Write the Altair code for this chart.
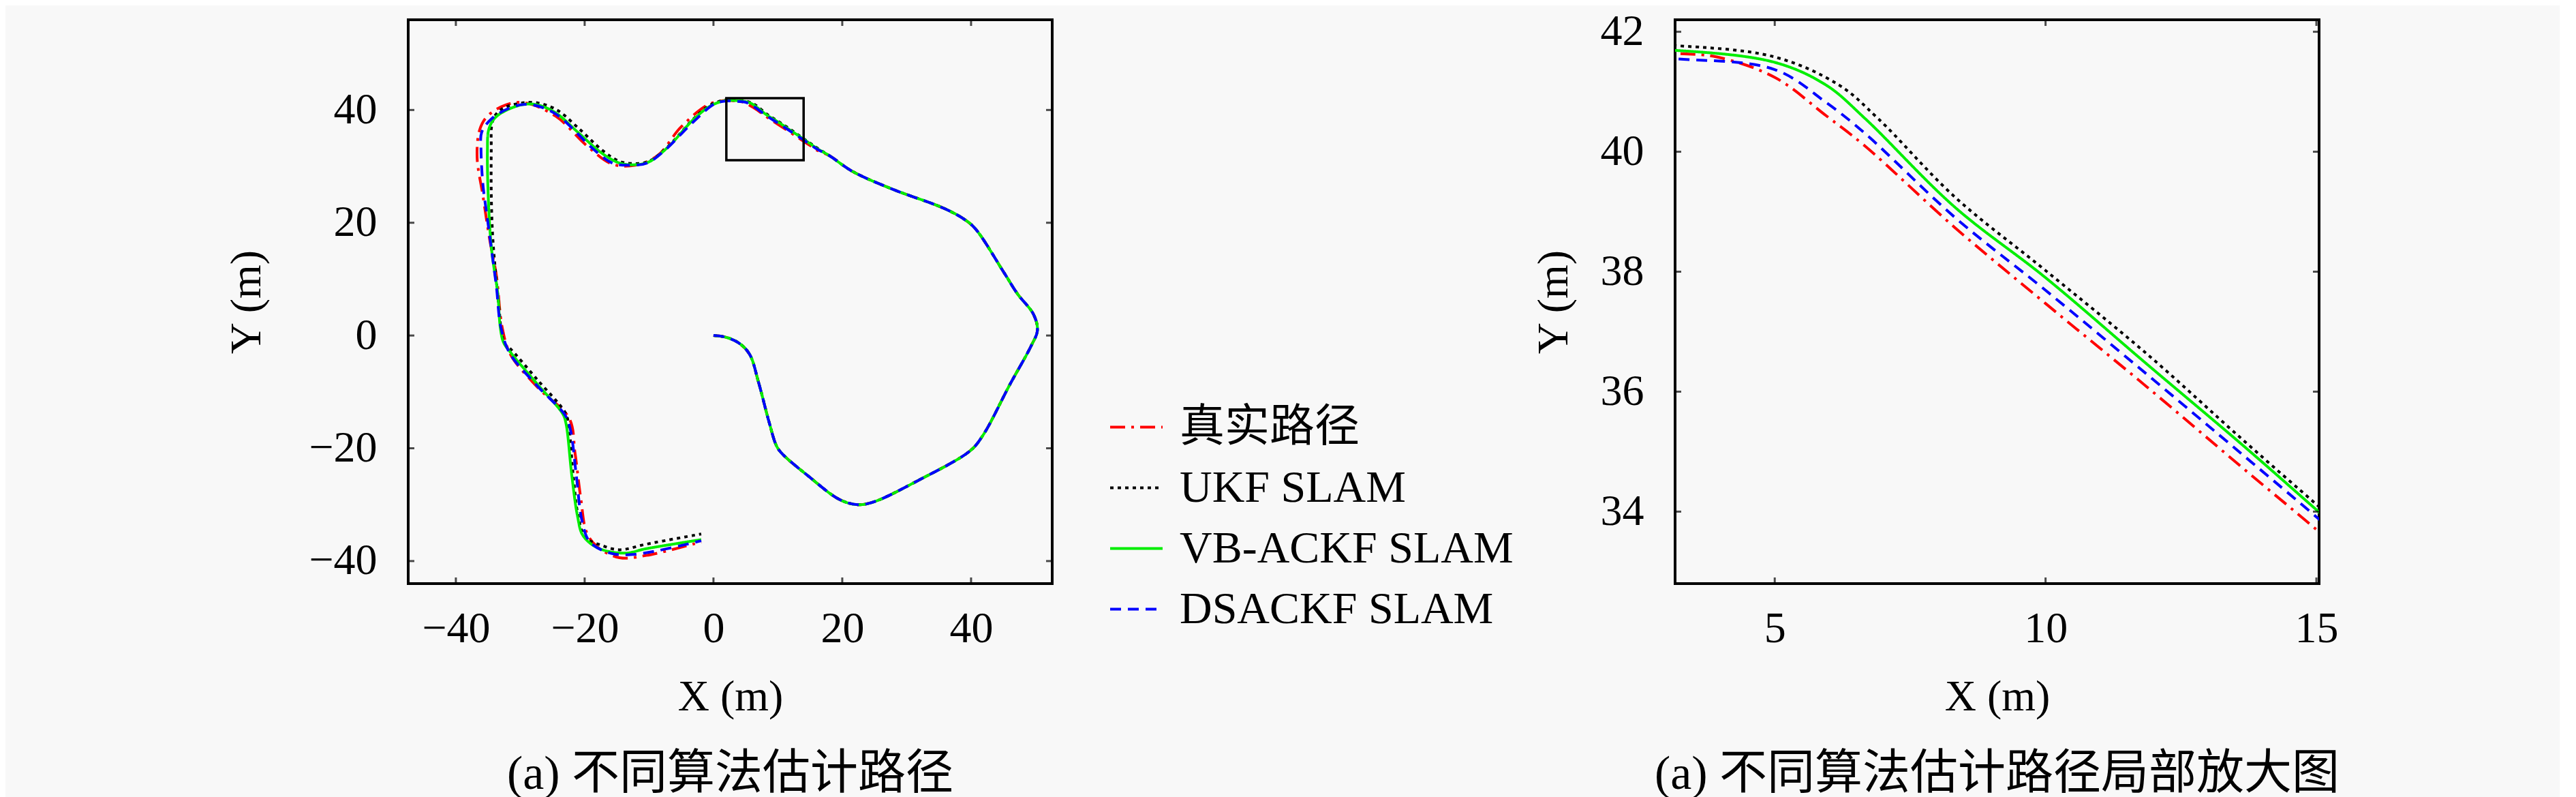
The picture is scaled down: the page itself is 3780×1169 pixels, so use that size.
import altair as alt
import pandas as pd

FONT = "Liberation Serif, Noto Sans CJK SC"

SERIES = ['真实路径', 'UKF SLAM', 'VB-ACKF SLAM', 'DSACKF SLAM']
COLORS = ['#ff0000', '#000000', '#00ee00', '#0000ff']
DASHES = [[22, 9, 4, 9], [5, 6], [1, 0], [16, 10]]

# shared first part of the path (all estimates overlap here)
COMMON_X = [0, 1.9, 3.9, 5.6, 7.0, 8.6, 9.8, 10.7, 14.7, 19.6, 22.4, 24.9, 31.8, 39.9, 41.9, 46.0,
            49.3, 50.3, 49.7, 47.2, 45.2, 40.7, 39.1, 35.9, 27.7, 21.6, 18.0]
COMMON_Y = [0, -0.3, -1.3, -3.3, -8.3, -15.2, -19.6, -21.0, -24.9, -29.1, -30.0, -29.5, -25.7, -20.4, -17.6, -8.75,
            -1.9, 0.9, 3.75, 7.4, 11.0, 18.9, 20.5, 22.5, 26.0, 29.1, 31.9]

TRUE_X = [16.0, 15.04, 13.65, 11.87, 10.0, 8.32, 6.66, 5.95, 5.0, 3.93, 3.16, 1.96, -0.9, -5.1, -8.6, -12.1,
          -15.7, -19.6, -24.5, -29.4, -32.25, -35.1, -36.3, -36.7, -35.8, -34.7, -33.7, -32.8, -31.5, -27.3,
          -22.4, -21.5, -20.6, -19.7, -18.1, -14.6, -10.4, -1.9]
TRUE_Y = [32.91, 33.67, 34.72, 36.08, 37.47, 38.74, 40.1, 40.6, 41.24, 41.58, 41.64, 41.7, 40.9, 36.9, 32.0, 30.2,
          30.4, 33.6, 38.9, 41.3, 40.9, 38.9, 36.5, 31.6, 24.8, 16.7, 10.6, 1.4, -3.4, -9.2,
          -14.7, -20.8, -28.9, -34.9, -37.4, -39.4, -39.0, -36.6]

UKF_X = [16.0, 15.04, 13.65, 11.87, 10.0, 8.32, 6.9, 6.19, 5.0, 3.16, 1.9, -0.6, -3.3, -6.9, -10.0, -12.1,
         -14.6, -17.2, -20.8, -24.3, -27.5, -30.0, -32.5, -33.8, -34.4, -34.5, -34.5, -34.3, -33.9, -33.3,
         -32.9, -32.4, -31.5, -27.3, -23.1, -22.6, -21.8, -21.0, -19.9, -17.4, -14.6, -10.4, -1.9]
UKF_Y = [33.33, 34.09, 35.19, 36.63, 38.02, 39.25, 40.56, 41.11, 41.58, 41.77, 41.8, 40.8, 38.2, 33.7, 30.9, 30.5,
         30.9, 32.8, 36.6, 40.0, 41.3, 41.2, 40.4, 39.2, 37.5, 33.0, 25.0, 18.0, 12.0, 5.0,
         0.5, -1.5, -2.4, -7.9, -13.5, -15.0, -24.5, -32.0, -35.8, -37.2, -38.0, -37.0, -35.2]

VB_X = [16.0, 15.04, 13.65, 11.87, 10.0, 8.32, 6.66, 5.95, 5.0, 3.16, 1.96, -0.5, -3.3, -6.9, -10.0, -12.1,
        -14.6, -17.4, -21.0, -24.5, -27.3, -29.4, -32.25, -34.0, -34.9, -35.1, -34.9, -34.4, -33.5, -33.1,
        -32.6, -31.5, -27.3, -23.4, -22.9, -22.0, -21.1, -20.3, -18.1, -13.9, -10.4, -1.9]
VB_Y = [33.24, 34.0, 35.1, 36.46, 37.9, 39.08, 40.56, 41.11, 41.49, 41.69, 41.7, 40.7, 38.1, 33.6, 30.8, 30.3,
        30.6, 32.4, 36.0, 39.5, 40.9, 41.0, 39.9, 38.5, 36.5, 32.8, 22.7, 14.7, 7.5, 1.4,
        -1.2, -3.0, -8.7, -13.9, -15.6, -24.8, -32.1, -35.4, -37.6, -38.6, -37.8, -36.2]

DS_X = [16.0, 15.04, 13.65, 11.87, 10.0, 8.32, 6.66, 5.95, 5.0, 3.16, 1.96, 0.2, -3.3, -7.6, -10.3, -13.2,
        -15.7, -18.8, -21.7, -24.5, -28.0, -30.8, -34.4, -36.0, -36.1, -35.8, -35.1, -34.4, -33.7, -33.0,
        -31.6, -27.3, -23.0, -22.2, -21.3, -20.4, -19.2, -16.0, -12.1, -1.9]
DS_Y = [33.12, 33.88, 34.94, 36.29, 37.69, 38.91, 40.31, 40.82, 41.37, 41.55, 41.6, 41.1, 37.7, 32.8, 30.6, 30.2,
        30.6, 33.2, 36.5, 39.3, 40.9, 40.7, 38.5, 36.0, 33.2, 26.8, 20.7, 14.7, 8.6, 1.4,
        -3.2, -9.0, -14.2, -16.8, -24.8, -32.9, -36.6, -38.6, -38.8, -36.4]

# zoomed region marked in the left panel
BOX_X = [2, 14]
BOX_Y = [31.1, 42.1]

LEFT_XTICKS = [-40, -20, 0, 20, 40]
LEFT_YTICKS = [-40, -20, 0, 20, 40]
RIGHT_XTICKS = [5, 10, 15]
RIGHT_YTICKS = [34, 36, 38, 40, 42]

W, H = 945, 827

rows = []
for name, xs, ys in zip(SERIES, [TRUE_X, UKF_X, VB_X, DS_X], [TRUE_Y, UKF_Y, VB_Y, DS_Y]):
    for i, (x, y) in enumerate(zip(COMMON_X + xs, COMMON_Y + ys)):
        rows.append({'series': name, 'x': x, 'y': y, 'i': i})
df = pd.DataFrame(rows)

legend = alt.Legend(title=None, orient='none', legendX=1028, legendY=557, symbolType='stroke',
                    symbolSize=5929, symbolStrokeWidth=4, labelFont=FONT, labelFontSize=66,
                    labelColor='black', labelOffset=23, labelLimit=0, rowPadding=15, padding=0)
color = alt.Color('series:N', scale=alt.Scale(domain=SERIES, range=COLORS), legend=legend)
dash = alt.StrokeDash('series:N', scale=alt.Scale(domain=SERIES, range=DASHES), legend=legend)


def panel(xdom, ydom, xticks, yticks, caption, ytitle_pad):
    xax = alt.Axis(values=xticks, format='d', title='X (m)', ticks=False, domain=False, grid=False,
                   labelPadding=34, titlePadding=36)
    yax = alt.Axis(values=yticks, format='d', title='Y (m)', ticks=False, domain=False, grid=False,
                   labelPadding=46, titlePadding=ytitle_pad)
    lines = alt.Chart(df).mark_line(strokeWidth=4, clip=True, interpolate='catmull-rom').encode(
        x=alt.X('x:Q', scale=alt.Scale(domain=xdom, nice=False, zero=False), axis=xax),
        y=alt.Y('y:Q', scale=alt.Scale(domain=ydom, nice=False, zero=False), axis=yax),
        color=color,
        strokeDash=dash,
        order='i:Q',
    )
    # inward ticks on all four sides of the frame
    xt = alt.Chart(pd.DataFrame({'x': xticks})).mark_tick(
        orient='vertical', size=18, thickness=3, color='black', clip=True)
    yt = alt.Chart(pd.DataFrame({'y': yticks})).mark_tick(
        orient='horizontal', size=18, thickness=3, color='black', clip=True)
    layers = [lines,
              xt.encode(x='x:Q', y=alt.value(0)),
              xt.encode(x='x:Q', y=alt.value(H)),
              yt.encode(y='y:Q', x=alt.value(0)),
              yt.encode(y='y:Q', x=alt.value(W))]
    return alt.layer(*layers).properties(
        width=W, height=H,
        title=alt.TitleParams(caption, orient='bottom', anchor='middle', offset=48))


box = alt.Chart(pd.DataFrame({'x': [BOX_X[0]], 'x2': [BOX_X[1]], 'y': [BOX_Y[0]], 'y2': [BOX_Y[1]]})).mark_rect(
    fillOpacity=0, stroke='black', strokeWidth=3.5).encode(x='x:Q', x2='x2:Q', y='y:Q', y2='y2:Q')

left = panel([-47.4, 52.6], [-44, 56], LEFT_XTICKS, LEFT_YTICKS, '(a) 不同算法估计路径', 58)
left = alt.layer(left.layer[0], box, *left.layer[1:]).properties(
    width=W, height=H, title=left.title)
right = panel([3.16, 15.05], [32.8, 42.2], RIGHT_XTICKS, RIGHT_YTICKS, '(a) 不同算法估计路径局部放大图', 36)

chart = alt.hconcat(left, right, spacing=700).properties(
    padding={'left': 320, 'top': 4, 'right': 320, 'bottom': 0},
    background='#f8f8f8',
).configure_view(
    stroke='black', strokeWidth=4
).configure_axis(
    labelFont=FONT, titleFont=FONT, labelFontSize=64, titleFontSize=64,
    titleFontWeight='normal', labelColor='black', titleColor='black'
).configure_title(
    font=FONT, fontSize=70, fontWeight='normal', color='black'
)

chart.save("out.html", embed_options={"renderer": "svg", "actions": False})
